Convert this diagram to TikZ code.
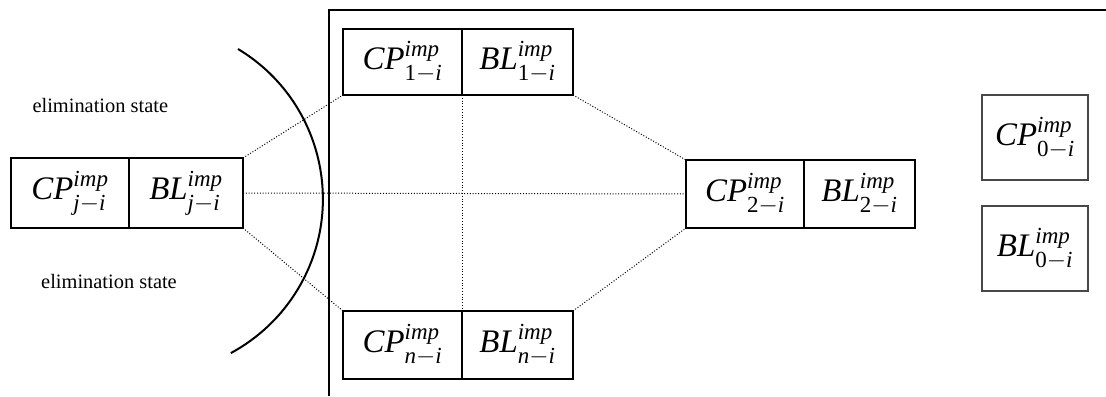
\documentclass[tikz,border=0pt]{standalone}
\usepackage{amsmath}
\usepackage{fontspec}
\setmainfont{Liberation Serif}
\newcommand\VV[3]{$\textit{#1}^{\textit{#2}}_{#3}$}
\begin{document}
\begin{tikzpicture}[x=1bp,y=1bp,
  cell/.style={draw, line width=1.3bp, inner sep=0pt, outer sep=0pt, font=\fontsize{33}{38}\selectfont},
  graycell/.style={cell, draw=black!72, line width=1.6bp},
  link/.style={line width=1bp, dash pattern=on 1bp off 1.8bp},
  lbl/.style={font=\fontsize{20.5}{24}\selectfont, anchor=base, inner sep=0pt}]
\useasboundingbox (0,0) rectangle (1106,396);
% frame
\draw[line width=1.3bp] (329,0) -- (329,386) -- (1106,386);
% arc
\draw[line width=2bp] (238,347) arc[start angle=59, end angle=-61.7, radius=175];
% left pair
\node[cell, minimum width=118bp, minimum height=70bp] (cpj) at (70,203) {\VV{CP}{imp}{\textit{j}-\textit{i}}};
\node[cell, minimum width=114bp, minimum height=70bp, anchor=west] (blj) at (cpj.east) {\VV{BL}{imp}{\textit{j}-\textit{i}}};
% top pair
\node[cell, minimum width=119bp, minimum height=66bp] (cp1) at (402.5,334) {\VV{CP}{imp}{\text{1}-\textit{i}}};
\node[cell, minimum width=111bp, minimum height=66bp, anchor=west] (bl1) at (cp1.east) {\VV{BL}{imp}{\text{1}-\textit{i}}};
% bottom pair
\node[cell, minimum width=119bp, minimum height=68bp] (cpn) at (402.5,51) {\VV{CP}{imp}{\textit{n}-\textit{i}}};
\node[cell, minimum width=111bp, minimum height=68bp, anchor=west] (bln) at (cpn.east) {\VV{BL}{imp}{\textit{n}-\textit{i}}};
% right pair
\node[cell, minimum width=118bp, minimum height=68bp] (cp2) at (745,202) {\VV{CP}{imp}{\text{2}-\textit{i}}};
\node[cell, minimum width=111bp, minimum height=68bp, anchor=west] (bl2) at (cp2.east) {\VV{BL}{imp}{\text{2}-\textit{i}}};
% isolated boxes
\node[graycell, minimum width=106bp, minimum height=85bp] (cp0) at (1035,258.5) {\VV{CP}{imp}{\text{0}-\textit{i}}};
\node[graycell, minimum width=106bp, minimum height=85bp] (bl0) at (1035,147.5) {\VV{BL}{imp}{\text{0}-\textit{i}}};
% labels
\node[lbl] (e1) at (100.3,283.3) {elimination state};
\node[lbl] (e2) at (109,108) {elimination state};
% dotted connectors
\draw[link] (blj.north east) -- (cp1.south west);
\draw[link] (blj.east) -- (cp2.west);
\draw[link] (blj.south east) -- (cpn.north west);
\draw[link] (cp1.south east) -- (cpn.north east);
\draw[link] (bl1.south east) -- (cp2.north west);
\draw[link] (bln.north east) -- (cp2.south west);
\end{tikzpicture}
\end{document}
